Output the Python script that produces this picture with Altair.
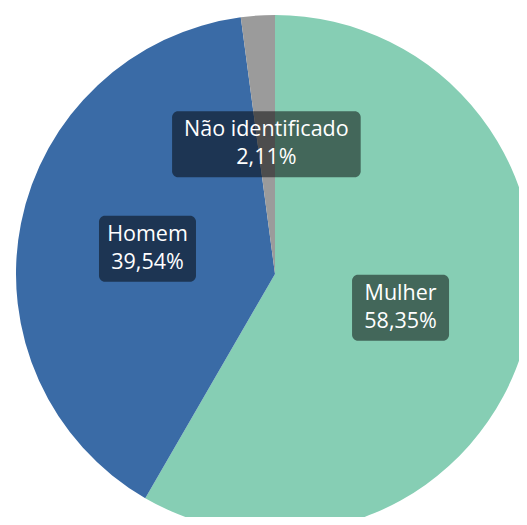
import altair as alt
import pandas as pd

categories = ["Mulher", "Homem", "Não identificado"]
values = [58.35, 39.54, 2.11]
order = [0, 1, 2]
colors = ["#86CEB4", "#3A6BA6", "#9B9B9B"]

df = pd.DataFrame({"name": categories, "value": values, "order": order})

W, H = 511, 509
xs = alt.Scale(domain=[-267, W - 267], nice=False, zero=False)
ys = alt.Scale(domain=[266 - H, 266], nice=False, zero=False)

base = (
    alt.Chart(df)
    .transform_joinaggregate(total="sum(value)")
    .transform_window(cum="sum(value)", sort=[alt.SortField("order")])
    .transform_calculate(
        mid="(datum.cum - datum.value/2)/datum.total*2*PI",
        cx="130*sin(datum.mid)",
        cy="130*cos(datum.mid)",
        zero="0",
        pct="replace(format(datum.value, '.2f'), '.', ',') + '%'",
    )
    .transform_calculate(
        bw="max(10.6*length(datum.name), 13*length(datum.pct)) + 19",
    )
    .transform_calculate(
        x1="datum.cx - datum.bw/2",
        x2="datum.cx + datum.bw/2",
        y1="datum.cy - 33",
        y2="datum.cy + 33",
    )
)

arc = base.mark_arc(radius=259).encode(
    theta=alt.Theta("value:Q", stack=True),
    order=alt.Order("order:Q"),
    color=alt.Color("name:N", scale=alt.Scale(domain=categories, range=colors), legend=None),
    x=alt.X("zero:Q", scale=xs, axis=None),
    y=alt.Y("zero:Q", scale=ys, axis=None),
)

box = base.mark_rect(cornerRadius=6, color="black", opacity=0.5).encode(
    x=alt.X("x1:Q", scale=xs, axis=None),
    x2="x2:Q",
    y=alt.Y("y1:Q", scale=ys, axis=None),
    y2="y2:Q",
)

text_style = dict(fontSize=21.5, font="Open Sans", color="white", baseline="middle", align="center")

name_text = base.mark_text(dy=-14, **text_style).encode(
    x=alt.X("cx:Q", scale=xs, axis=None),
    y=alt.Y("cy:Q", scale=ys, axis=None),
    text="name:N",
)

pct_text = base.mark_text(dy=14, **text_style).encode(
    x=alt.X("cx:Q", scale=xs, axis=None),
    y=alt.Y("cy:Q", scale=ys, axis=None),
    text="pct:N",
)

chart = (
    alt.layer(arc, box, name_text, pct_text)
    .properties(width=W, height=H, autosize=alt.AutoSizeParams(type="none"), padding=0)
    .configure_view(stroke=None)
)

chart.save("out.html", embed_options={"renderer": "svg", "actions": False})
